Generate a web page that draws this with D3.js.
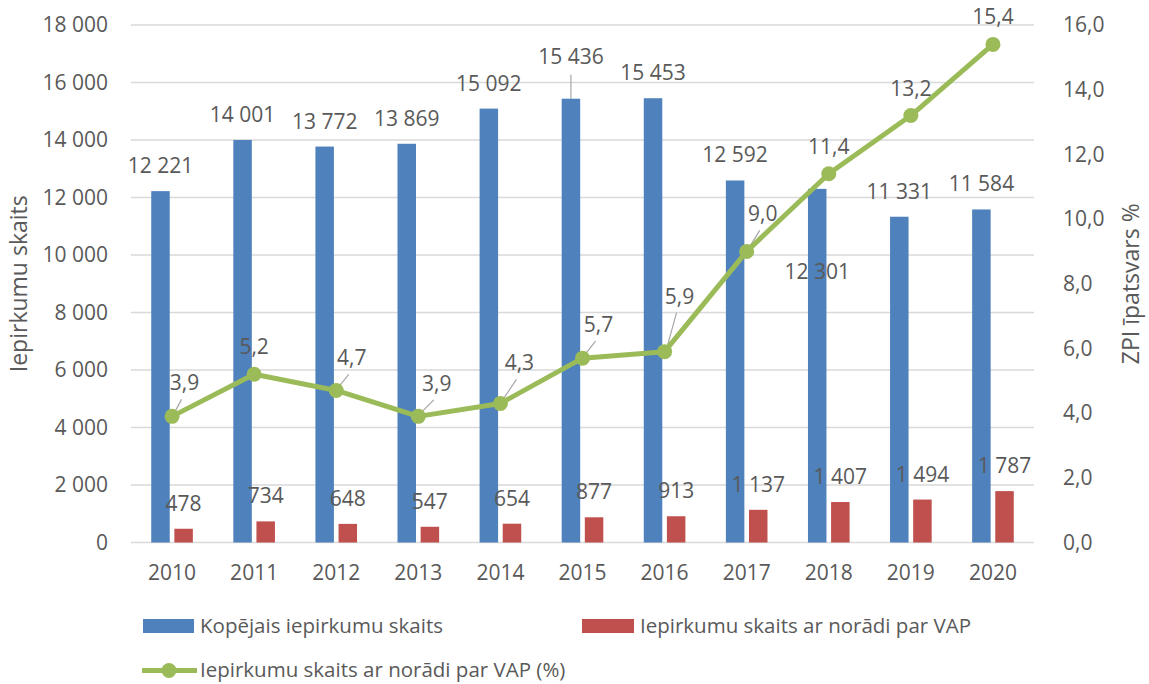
<!DOCTYPE html>
<html><head><meta charset="utf-8">
<script src="https://cdn.jsdelivr.net/npm/d3@7"></script>
<style>
body{margin:0;background:#fff}
svg{display:block}
text{font-family:"Open Sans",sans-serif;fill:#595959}
</style>
</head><body>
<svg id="chart" width="1149" height="684"></svg>
<script>
// ---- data ----
const years = ["2010","2011","2012","2013","2014","2015","2016","2017","2018","2019","2020"];
const totalCount = [12221,14001,13772,13869,15092,15436,15453,12592,12301,11331,11584];
const vapCount = [478,734,648,547,654,877,913,1137,1407,1494,1787];
const vapShare = [3.9,5.2,4.7,3.9,4.3,5.7,5.9,9.0,11.4,13.2,15.4];
const leftTicks = [0,2000,4000,6000,8000,10000,12000,14000,16000,18000];
const rightTicks = [0,2,4,6,8,10,12,14,16];
const seriesNames = ["Kopējais iepirkumu skaits","Iepirkumu skaits ar norādi par VAP","Iepirkumu skaits ar norādi par VAP (%)"];
const leftTitle = "Iepirkumu skaits";
const rightTitle = "ZPI īpatsvars %";

// ---- label placement tweaks (layout only) ----
const totalLabelShift = {"2015": -17, "2018": 108};
const shareLabelShift = {"2010":[12.5,-6],"2012":[15.5,-5],"2013":[18.5,-5.5],"2014":[19,-13],"2015":[16,-6],"2016":[15,-28],"2017":[16,-10]};

const C = {blue:"#4F81BD", red:"#C0504D", green:"#9BBB59", grid:"#D9D9D9", text:"#595959", leader:"#A6A6A6"};
const loc = d3.formatLocale({decimal:",", thousands:" ", grouping:[3], currency:["",""]});
const fInt = loc.format(",d"), fDec = loc.format(".1f");
const NUM = 21;

const svg = d3.select("#chart");
const L = 131, R = 1034, B = 542.5, T = 25;

const x = d3.scaleBand().domain(years).range([L, R]).paddingInner(0.493).paddingOuter(0.2465);
const xs = d3.scaleBand().domain([0,1]).range([0, x.bandwidth()]).paddingInner(0.2);
const y = d3.scaleLinear().domain([0,18000]).range([B, T]);
const y2 = d3.scaleLinear().domain([0,16]).range([B, T]);
const cx = d => x(d) + x.bandwidth()/2;

// gridlines
svg.append("g").selectAll("line").data(leftTicks).join("line")
  .attr("x1", L).attr("x2", R).attr("y1", d => y(d)).attr("y2", d => y(d))
  .attr("stroke", C.grid).attr("stroke-width", 1.5);

// axes
function styleAxis(g){
  g.select(".domain").remove();
  g.selectAll("text").attr("font-size", NUM).attr("font-family", '"Open Sans",sans-serif').attr("fill", C.text);
}
svg.append("g").attr("transform", `translate(${L},0)`)
  .call(d3.axisLeft(y).tickValues(leftTicks).tickFormat(fInt).tickSize(0).tickPadding(23)).call(styleAxis);
svg.append("g").attr("transform", `translate(${R},0)`)
  .call(d3.axisRight(y2).tickValues(rightTicks).tickFormat(fDec).tickSize(0).tickPadding(29)).call(styleAxis);
svg.append("g").attr("transform", `translate(0,${B})`)
  .call(d3.axisBottom(x).tickSize(0).tickPadding(22.6)).call(styleAxis);

// bars
const rows = years.map((yr,i) => ({yr, total: totalCount[i], vap: vapCount[i], share: vapShare[i]}));
svg.append("g").selectAll("rect").data(rows).join("rect")
  .attr("x", d => x(d.yr) + xs(0)).attr("width", xs.bandwidth())
  .attr("y", d => y(d.total)).attr("height", d => B - y(d.total)).attr("fill", C.blue);
svg.append("g").selectAll("rect").data(rows).join("rect")
  .attr("x", d => x(d.yr) + xs(1)).attr("width", xs.bandwidth())
  .attr("y", d => y(d.vap)).attr("height", d => B - y(d.vap)).attr("fill", C.red);

// bar labels
const gl = svg.append("g").attr("font-size", NUM).attr("text-anchor", "middle");
rows.forEach(d => {
  const bx = x(d.yr) + xs(0) + xs.bandwidth()/2;
  const shift = totalLabelShift[d.yr] || 0;
  const base = y(d.total) - 18 + shift;
  if (shift < 0) {
    svg.append("line").attr("x1", bx).attr("x2", bx).attr("y1", y(d.total)).attr("y2", base + 11)
      .attr("stroke", C.leader).attr("stroke-width", 1.2);
  }
  gl.append("text").attr("x", bx).attr("y", base).text(fInt(d.total));
  const rx = x(d.yr) + xs(1) + xs.bandwidth()/2;
  gl.append("text").attr("x", rx).attr("y", y(d.vap) - 18).text(fInt(d.vap));
});

// line + leaders
const lineGen = d3.line().x(d => cx(d.yr)).y(d => y2(d.share));
const leaders = svg.append("g");
svg.append("path").datum(rows).attr("d", lineGen).attr("fill", "none")
  .attr("stroke", C.green).attr("stroke-width", 5).attr("stroke-linejoin", "round");
rows.forEach(d => {
  const s = shareLabelShift[d.yr] || [0,0];
  const px = cx(d.yr), py = y2(d.share);
  const lx = px + s[0], base = py - 20 + s[1];
  if (shareLabelShift[d.yr]) {
    leaders.append("line").attr("x1", px + 2).attr("y1", py - 3).attr("x2", lx - 3).attr("y2", base + 9)
      .attr("stroke", C.leader).attr("stroke-width", 1.2);
  }
  gl.append("text").attr("x", lx).attr("y", base).text(fDec(d.share));
});
svg.append("g").selectAll("circle").data(rows).join("circle")
  .attr("cx", d => cx(d.yr)).attr("cy", d => y2(d.share)).attr("r", 7.5).attr("fill", C.green);
gl.raise();

// axis titles
svg.append("text").attr("transform", `translate(27,${(T+B)/2}) rotate(-90)`)
  .attr("text-anchor", "middle").attr("font-size", 23).text(leftTitle);
svg.append("text").attr("transform", `translate(1138.5,${(T+B)/2}) rotate(-90)`)
  .attr("text-anchor", "middle").attr("font-size", 23).text(rightTitle);

// legend
const lg = svg.append("g").attr("font-size", 20.5);
lg.append("rect").attr("x", 143).attr("y", 619).attr("width", 51).attr("height", 14).attr("fill", C.blue);
lg.append("text").attr("x", 200).attr("y", 633).text(seriesNames[0]);
lg.append("rect").attr("x", 582).attr("y", 619).attr("width", 52).attr("height", 14).attr("fill", C.red);
lg.append("text").attr("x", 640).attr("y", 633).text(seriesNames[1]);
lg.append("line").attr("x1", 142).attr("x2", 197).attr("y1", 670.5).attr("y2", 670.5)
  .attr("stroke", C.green).attr("stroke-width", 5);
lg.append("circle").attr("cx", 169).attr("cy", 670.5).attr("r", 7.5).attr("fill", C.green);
lg.append("text").attr("x", 200).attr("y", 677).text(seriesNames[2]);
</script>
</body></html>
